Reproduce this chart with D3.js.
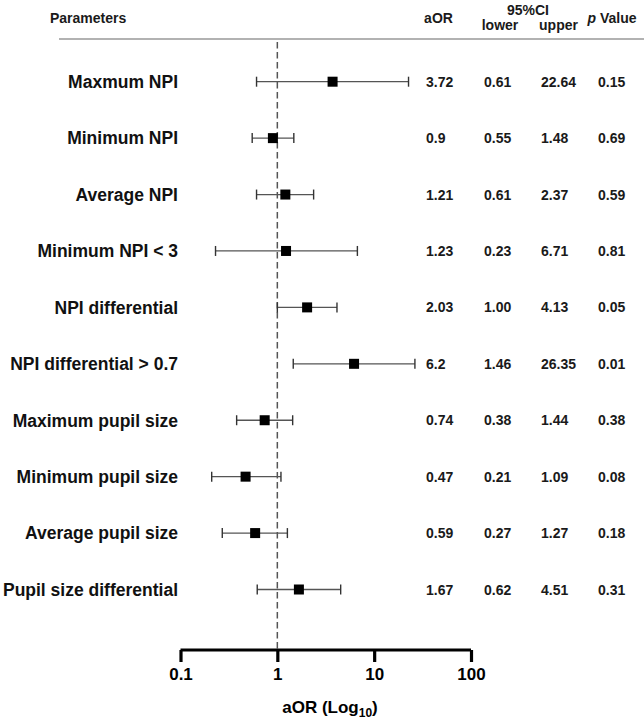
<!DOCTYPE html>
<html><head><meta charset="utf-8">
<script src="https://cdn.jsdelivr.net/npm/d3@7"></script>
<style>
html,body{margin:0;padding:0;background:#fff;}
text{font-family:"Liberation Sans",Arial,sans-serif;}
</style></head>
<body>
<svg id="c" width="644" height="719"></svg>
<script>
const params = ["Maxmum NPI","Minimum NPI","Average NPI","Minimum NPI < 3","NPI differential","NPI differential > 0.7","Maximum pupil size","Minimum pupil size","Average pupil size","Pupil size differential"];
const aOR   = ["3.72","0.9","1.21","1.23","2.03","6.2","0.74","0.47","0.59","1.67"];
const lower = ["0.61","0.55","0.61","0.23","1.00","1.46","0.38","0.21","0.27","0.62"];
const upper = ["22.64","1.48","2.37","6.71","4.13","26.35","1.44","1.09","1.27","4.51"];
const pval  = ["0.15","0.69","0.59","0.81","0.05","0.01","0.38","0.08","0.18","0.31"];
const ticks = [0.1, 1, 10, 100];
const tickLabels = ["0.1","1","10","100"];

const svg = d3.select("#c");
const x = d3.scaleLog().domain([0.1,100]).range([180.5,471]);
const y = d3.scalePoint().domain(params).range([81.7,589.5]);
const axisY = 650;

// header
const hdr = svg.append("g").attr("font-weight","bold").attr("font-size",14).attr("fill","#1a1a1a");
hdr.append("text").attr("x",50).attr("y",22.5).text("Parameters");
hdr.append("text").attr("x",438.5).attr("y",22.5).attr("text-anchor","middle").text("aOR");
hdr.append("text").attr("x",528).attr("y",15).attr("text-anchor","middle").text("95%CI");
hdr.append("text").attr("x",500).attr("y",30).attr("text-anchor","middle").text("lower");
hdr.append("text").attr("x",558.5).attr("y",30).attr("text-anchor","middle").text("upper");
const pv = hdr.append("text").attr("x",612).attr("y",22.5).attr("text-anchor","middle");
pv.append("tspan").attr("font-style","italic").text("p");
pv.append("tspan").text(" Value");

svg.append("line").attr("x1",59).attr("x2",644).attr("y1",39).attr("y2",39)
  .attr("stroke","#999").attr("stroke-width",1.6);

// reference line at 1
svg.append("line").attr("x1",x(1)).attr("x2",x(1)).attr("y1",42).attr("y2",axisY)
  .attr("stroke","#555").attr("stroke-width",1.5).attr("stroke-dasharray","6.5,3.5");

// rows
const rows = params.map((p,i)=>({p, or:+aOR[i], lo:+lower[i], hi:+upper[i], sor:aOR[i], slo:lower[i], shi:upper[i], sp:pval[i]}));
const g = svg.selectAll("g.row").data(rows).enter().append("g").attr("class","row");
g.append("text").attr("x",178).attr("y",d=>y(d.p)+6.3).attr("text-anchor","end")
  .attr("font-weight","bold").attr("font-size",17.5).attr("fill","#111").text(d=>d.p);
g.append("line").attr("x1",d=>x(d.lo)).attr("x2",d=>x(d.hi)).attr("y1",d=>y(d.p)).attr("y2",d=>y(d.p))
  .attr("stroke","#555").attr("stroke-width",1.3);
g.append("line").attr("x1",d=>x(d.lo)).attr("x2",d=>x(d.lo)).attr("y1",d=>y(d.p)-5).attr("y2",d=>y(d.p)+5)
  .attr("stroke","#333").attr("stroke-width",1.4);
g.append("line").attr("x1",d=>x(d.hi)).attr("x2",d=>x(d.hi)).attr("y1",d=>y(d.p)-5).attr("y2",d=>y(d.p)+5)
  .attr("stroke","#333").attr("stroke-width",1.4);
g.append("rect").attr("x",d=>x(d.or)-5).attr("y",d=>y(d.p)-5).attr("width",10).attr("height",10).attr("fill","#000");
const cols = [["sor",426],["slo",484],["shi",541],["sp",598]];
cols.forEach(([k,cx])=>{
  g.append("text").attr("x",cx).attr("y",d=>y(d.p)+5).attr("font-weight","bold").attr("font-size",14)
    .attr("fill","#1a1a1a").text(d=>d[k]);
});

// axis
const ax = svg.append("g").attr("transform",`translate(0,${axisY})`)
  .call(d3.axisBottom(x).tickValues(ticks).tickFormat((d,i)=>tickLabels[i]).tickSize(12).tickPadding(6));
ax.select(".domain").attr("stroke","#000").attr("stroke-width",3.2).attr("d",`M${x(0.1)},0H${x(100)}`);
ax.selectAll(".tick line").attr("stroke","#000").attr("stroke-width",3.2);
ax.selectAll(".tick text").attr("font-family","Liberation Sans, Arial, sans-serif").attr("font-weight","bold")
  .attr("font-size",17).attr("fill","#000");

const t = svg.append("text").attr("x",330).attr("y",713).attr("text-anchor","middle")
  .attr("font-weight","bold").attr("font-size",17).attr("fill","#000");
t.append("tspan").text("aOR (Log");
t.append("tspan").attr("font-size",12).attr("dy",4).text("10");
t.append("tspan").attr("dy",-4).text(")");
</script>
</body></html>
